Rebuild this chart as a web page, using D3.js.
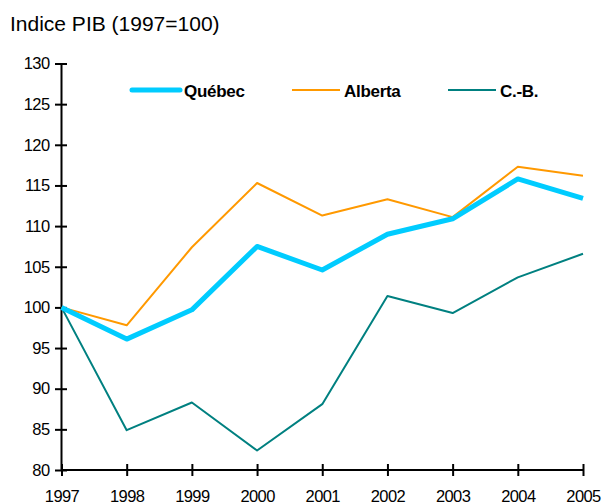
<!DOCTYPE html>
<html>
<head>
<meta charset="utf-8">
<script src="https://cdn.jsdelivr.net/npm/d3@7"></script>
<style>
  body { margin: 0; background: #fff; }
  text { font-family: "Liberation Sans", Arial, sans-serif; }
</style>
</head>
<body>
<div id="chart"></div>
<script>
var years = [1997, 1998, 1999, 2000, 2001, 2002, 2003, 2004, 2005];
var quebec = [100, 96.1, 99.7, 107.5, 104.6, 109.0, 110.9, 115.8, 113.4];
var alberta = [100, 97.8, 107.4, 115.3, 111.3, 113.3, 111.1, 117.3, 116.2];
var cb = [100, 84.9, 88.3, 82.4, 88.1, 101.4, 99.3, 103.7, 106.6];
var yTicks = [80, 85, 90, 95, 100, 105, 110, 115, 120, 125, 130];

var series = [
  { name: "Québec", values: quebec, color: "#00ccff", width: 5, lx: 132 },
  { name: "Alberta", values: alberta, color: "#ff9900", width: 2, lx: 292 },
  { name: "C.-B.", values: cb, color: "#008080", width: 2, lx: 448 }
];

var W = 605, H = 503;
var svg = d3.select("#chart").append("svg")
  .attr("width", W)
  .attr("height", H);

var x = d3.scaleLinear().domain([1997, 2005]).range([61.5, 583]);
var y = d3.scaleLinear().domain([80, 130]).range([470, 63.5]);

// title
svg.append("text")
  .attr("x", 10)
  .attr("y", 31)
  .attr("font-size", 21)
  .text("Indice PIB (1997=100)");

// y axis
var yAxis = svg.append("g").attr("transform", "translate(" + x(1997) + ",0)")
  .call(d3.axisLeft(y).tickValues(yTicks).tickSize(0).tickPadding(12));
yAxis.select(".domain").remove();
yAxis.selectAll("text").attr("font-size", 16.5).attr("letter-spacing", -0.6).attr("fill", "#000");
yAxis.selectAll(".tick").append("line")
  .attr("x1", -6.5).attr("x2", 5.5)
  .attr("stroke", "#000").attr("stroke-width", 2);
yAxis.append("line")
  .attr("y1", y(80)).attr("y2", y(130))
  .attr("stroke", "#000").attr("stroke-width", 2);

// x axis
var xAxis = svg.append("g").attr("transform", "translate(0," + y(80) + ")")
  .call(d3.axisBottom(x).tickValues(years).tickFormat(d3.format("d")).tickSize(0).tickPadding(20));
xAxis.select(".domain").remove();
xAxis.selectAll("text").attr("font-size", 16.5).attr("letter-spacing", -0.6).attr("fill", "#000");
xAxis.selectAll(".tick").append("line")
  .attr("y1", -6).attr("y2", 6)
  .attr("stroke", "#000").attr("stroke-width", 2);
xAxis.append("line")
  .attr("x1", x(1997)).attr("x2", x(2005))
  .attr("stroke", "#000").attr("stroke-width", 2);

// lines
var line = d3.line()
  .x(function(d, i) { return x(years[i]); })
  .y(function(d) { return y(d); });

// thin ones first, Québec on top
[series[2], series[1], series[0]].forEach(function(s) {
  svg.append("path")
    .datum(s.values)
    .attr("d", line)
    .attr("fill", "none")
    .attr("stroke", s.color)
    .attr("stroke-width", s.width)
    .attr("stroke-linejoin", "round");
});

// legend
var legend = svg.append("g");
series.forEach(function(s) {
  legend.append("line")
    .attr("x1", s.lx).attr("x2", s.lx + 48)
    .attr("y1", 90).attr("y2", 90)
    .attr("stroke", s.color)
    .attr("stroke-width", s.width)
    .attr("stroke-linecap", s.width > 3 ? "round" : "butt");
  legend.append("text")
    .attr("x", s.lx + 52)
    .attr("y", 97)
    .attr("font-size", 17)
    .attr("font-weight", "bold")
    .attr("letter-spacing", -0.3)
    .text(s.name);
});
</script>
</body>
</html>
